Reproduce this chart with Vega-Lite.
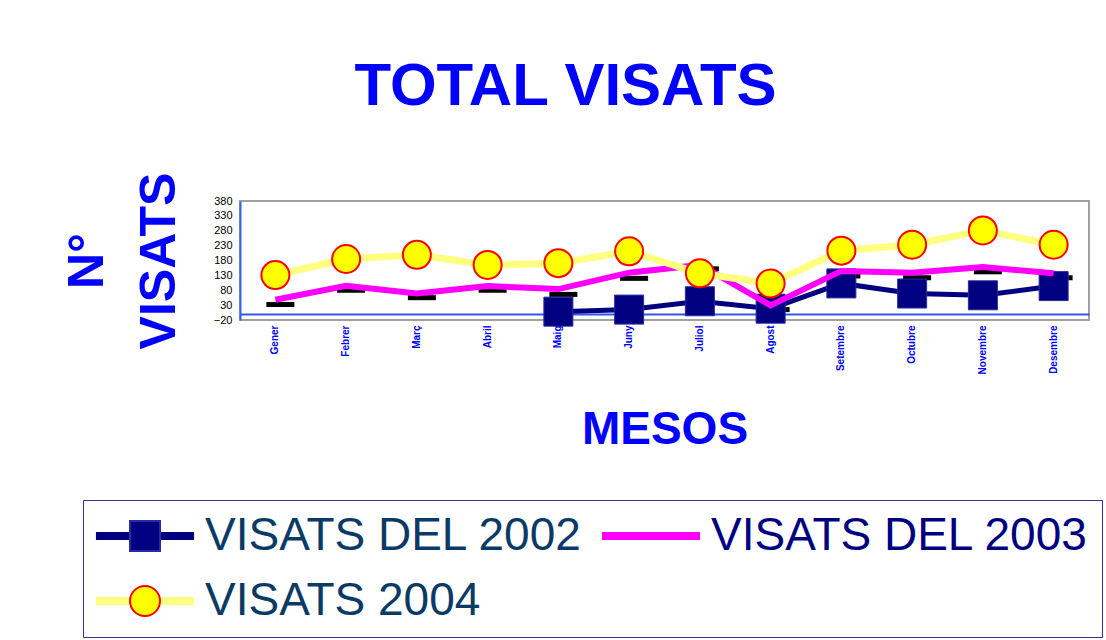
{
  "$schema": "https://vega.github.io/schema/vega-lite/v6.json",
  "width": 849,
  "height": 119,
  "autosize": {"type": "none"},
  "padding": {"left": 240, "top": 201, "right": 17, "bottom": 320},
  "background": "white",
  "title": {"text": "TOTAL VISATS", "font": "Liberation Sans", "fontSize": 60, "fontWeight": "bold", "color": "#0000FF", "anchor": "middle", "baseline": "alphabetic", "offset": 7, "dx": -99},
  "config": {
    "view": {"stroke": "#A0A0A0", "strokeWidth": 2},
    "legend": {"labelLimit": 800}
  },
  "datasets": {
    "visats": [
      {"mes": "Maig", "serie": "VISATS DEL 2002", "marca": "VISATS DEL 2002", "valor": 8},
      {"mes": "Juny", "serie": "VISATS DEL 2002", "marca": "VISATS DEL 2002", "valor": 15},
      {"mes": "Juliol", "serie": "VISATS DEL 2002", "marca": "VISATS DEL 2002", "valor": 43},
      {"mes": "Agost", "serie": "VISATS DEL 2002", "marca": "VISATS DEL 2002", "valor": 18},
      {"mes": "Setembre", "serie": "VISATS DEL 2002", "marca": "VISATS DEL 2002", "valor": 103},
      {"mes": "Octubre", "serie": "VISATS DEL 2002", "marca": "VISATS DEL 2002", "valor": 69},
      {"mes": "Novembre", "serie": "VISATS DEL 2002", "marca": "VISATS DEL 2002", "valor": 63},
      {"mes": "Desembre", "serie": "VISATS DEL 2002", "marca": "VISATS DEL 2002", "valor": 94},
      {"mes": "Gener", "serie": "VISATS DEL 2003", "valor": 48},
      {"mes": "Febrer", "serie": "VISATS DEL 2003", "valor": 95},
      {"mes": "Març", "serie": "VISATS DEL 2003", "valor": 69},
      {"mes": "Abril", "serie": "VISATS DEL 2003", "valor": 94},
      {"mes": "Maig", "serie": "VISATS DEL 2003", "valor": 84},
      {"mes": "Juny", "serie": "VISATS DEL 2003", "valor": 139},
      {"mes": "Juliol", "serie": "VISATS DEL 2003", "valor": 165},
      {"mes": "Agost", "serie": "VISATS DEL 2003", "valor": 29},
      {"mes": "Setembre", "serie": "VISATS DEL 2003", "valor": 145},
      {"mes": "Octubre", "serie": "VISATS DEL 2003", "valor": 139},
      {"mes": "Novembre", "serie": "VISATS DEL 2003", "valor": 158},
      {"mes": "Desembre", "serie": "VISATS DEL 2003", "valor": 137},
      {"mes": "Gener", "serie": "VISATS 2004", "marca": "VISATS 2004", "valor": 131},
      {"mes": "Febrer", "serie": "VISATS 2004", "marca": "VISATS 2004", "valor": 185},
      {"mes": "Març", "serie": "VISATS 2004", "marca": "VISATS 2004", "valor": 199},
      {"mes": "Abril", "serie": "VISATS 2004", "marca": "VISATS 2004", "valor": 165},
      {"mes": "Maig", "serie": "VISATS 2004", "marca": "VISATS 2004", "valor": 171},
      {"mes": "Juny", "serie": "VISATS 2004", "marca": "VISATS 2004", "valor": 211},
      {"mes": "Juliol", "serie": "VISATS 2004", "marca": "VISATS 2004", "valor": 137},
      {"mes": "Agost", "serie": "VISATS 2004", "marca": "VISATS 2004", "valor": 103},
      {"mes": "Setembre", "serie": "VISATS 2004", "marca": "VISATS 2004", "valor": 213},
      {"mes": "Octubre", "serie": "VISATS 2004", "marca": "VISATS 2004", "valor": 233},
      {"mes": "Novembre", "serie": "VISATS 2004", "marca": "VISATS 2004", "valor": 281},
      {"mes": "Desembre", "serie": "VISATS 2004", "marca": "VISATS 2004", "valor": 233}
    ],
    "ombra": [
      {"mes": "Gener", "valor": 32},
      {"mes": "Febrer", "valor": 80},
      {"mes": "Març", "valor": 55},
      {"mes": "Abril", "valor": 80},
      {"mes": "Maig", "valor": 66},
      {"mes": "Juny", "valor": 120},
      {"mes": "Juliol", "valor": 152},
      {"mes": "Agost", "valor": 15},
      {"mes": "Setembre", "valor": 128},
      {"mes": "Octubre", "valor": 122},
      {"mes": "Novembre", "valor": 142},
      {"mes": "Desembre", "valor": 122}
    ]
  },
  "data": {"name": "visats"},
  "encoding": {
    "x": {
      "field": "mes", "type": "nominal",
      "sort": ["Gener","Febrer","Març","Abril","Maig","Juny","Juliol","Agost","Setembre","Octubre","Novembre","Desembre"],
      "scale": {"type": "band", "paddingInner": 0, "paddingOuter": 0},
      "axis": {
        "orient": "bottom", "domain": false, "ticks": false,
        "labelAngle": -90, "labelFont": "Liberation Sans", "labelFontSize": 10, "labelFontWeight": "bold", "labelColor": "#0000FF", "labelPadding": 5,
        "title": "MESOS", "titleFont": "Liberation Sans", "titleFontSize": 46, "titleFontWeight": "bold", "titleColor": "#0000FF",
        "titleBaseline": "alphabetic", "titleY": 123, "titleX": 424.5
      }
    },
    "y": {
      "field": "valor", "type": "quantitative",
      "scale": {"domain": [-20, 380], "nice": false, "zero": false},
      "axis": {
        "values": [-20,-10,0,10,20,30,40,50,60,70,80,90,100,110,120,130,140,150,160,170,180,190,200,210,220,230,240,250,260,270,280,290,300,310,320,330,340,350,360,370,380],
        "labelExpr": "(datum.value + 20) % 50 === 0 ? datum.label : ''",
        "labelOverlap": false,
        "labelFont": "Liberation Sans", "labelFontSize": 11, "labelColor": "#000000", "labelPadding": 8,
        "ticks": false,
        "domainColor": "#3366DD", "domainWidth": 2,
        "grid": true,
        "gridColor": {"condition": {"test": "datum.value === 0", "value": "#3355EE"}, "value": {"expr": "(datum.value + 20) % 50 === 0 ? '#000000' : '#5CC8C8'"}},
        "gridWidth": {"condition": {"test": "datum.value === 0", "value": 2}, "value": 1},
        "title": ["N°", "VISATS"], "titleFont": "Liberation Sans", "titleFontSize": 50, "titleFontWeight": "bold", "titleColor": "#0000FF",
        "titleLineHeight": 72, "titleBaseline": "alphabetic", "titleAngle": -90, "titleX": -138, "titleY": 59.5, "titleAlign": "center"
      }
    }
  },
  "layer": [
    {
      "data": {"name": "ombra"},
      "mark": {"type": "tick", "color": "#000000", "opacity": 1, "size": 28, "thickness": 5, "xOffset": 5}
    },
    {
      "transform": [{"filter": "datum.serie === 'VISATS DEL 2002'"}],
      "mark": {"type": "line", "strokeWidth": 5},
      "encoding": {
        "color": {"field": "serie", "type": "nominal",
          "scale": {"domain": ["VISATS DEL 2002", "VISATS 2004", "VISATS DEL 2003"], "range": ["#000080", "#FFFF80", "#FF00FF"]},
          "legend": {"orient": "none", "legendX": -157, "legendY": 299, "columns": 2, "columnPadding": 2, "rowPadding": 19,
            "symbolType": "M-3.27,0H3.27", "symbolSize": 900, "symbolStrokeWidth": 8, "symbolOffset": 26, "labelOffset": 37,
            "labelFont": "Liberation Sans", "labelFontSize": 46, "labelColor": "#0A3A66", "padding": 13, "strokeColor": "#333399", "title": null,
            "encode": {"labels": {"update": {"fill": {"signal": "datum.label === 'VISATS DEL 2003' ? '#000080' : '#0A3A66'"}}}}}
        }
      }
    },
    {
      "transform": [{"filter": "datum.serie === 'VISATS DEL 2002'"}],
      "mark": {"type": "point", "filled": true, "size": 841, "strokeWidth": 1, "opacity": 1},
      "encoding": {
        "shape": {"field": "marca", "type": "nominal",
          "scale": {"domain": ["VISATS DEL 2002", "VISATS 2004"], "range": ["square", "circle"]},
          "legend": {"orient": "none", "legendX": -157, "legendY": 299, "direction": "vertical", "columns": 1, "rowPadding": 19,
            "symbolSize": 900, "symbolStrokeWidth": 2, "symbolOffset": 26, "labelOffset": 37,
            "labelFont": "Liberation Sans", "labelFontSize": 46, "labelColor": "transparent", "padding": 13, "strokeColor": "transparent", "title": null}},
        "fill": {"field": "marca", "type": "nominal", "scale": {"domain": ["VISATS DEL 2002", "VISATS 2004"], "range": ["#000080", "#FFFF00"]}},
        "stroke": {"field": "marca", "type": "nominal", "scale": {"domain": ["VISATS DEL 2002", "VISATS 2004"], "range": ["#2A2AA0", "#FF0000"]}}
      }
    },
    {
      "transform": [{"filter": "datum.serie === 'VISATS DEL 2003'"}],
      "mark": {"type": "line", "strokeWidth": 6},
      "encoding": {
        "color": {"field": "serie", "type": "nominal",
          "scale": {"domain": ["VISATS DEL 2002", "VISATS 2004", "VISATS DEL 2003"], "range": ["#000080", "#FFFF80", "#FF00FF"]},
          "legend": {"orient": "none", "legendX": -157, "legendY": 299, "columns": 2, "columnPadding": 2, "rowPadding": 19,
            "symbolType": "M-3.27,0H3.27", "symbolSize": 900, "symbolStrokeWidth": 8, "symbolOffset": 26, "labelOffset": 37,
            "labelFont": "Liberation Sans", "labelFontSize": 46, "labelColor": "#0A3A66", "padding": 13, "strokeColor": "#333399", "title": null,
            "encode": {"labels": {"update": {"fill": {"signal": "datum.label === 'VISATS DEL 2003' ? '#000080' : '#0A3A66'"}}}}}
        }
      }
    },
    {
      "transform": [{"filter": "datum.serie === 'VISATS 2004'"}],
      "mark": {"type": "line", "strokeWidth": 7},
      "encoding": {
        "color": {"field": "serie", "type": "nominal",
          "scale": {"domain": ["VISATS DEL 2002", "VISATS 2004", "VISATS DEL 2003"], "range": ["#000080", "#FFFF80", "#FF00FF"]},
          "legend": {"orient": "none", "legendX": -157, "legendY": 299, "columns": 2, "columnPadding": 2, "rowPadding": 19,
            "symbolType": "M-3.27,0H3.27", "symbolSize": 900, "symbolStrokeWidth": 8, "symbolOffset": 26, "labelOffset": 37,
            "labelFont": "Liberation Sans", "labelFontSize": 46, "labelColor": "#0A3A66", "padding": 13, "strokeColor": "#333399", "title": null,
            "encode": {"labels": {"update": {"fill": {"signal": "datum.label === 'VISATS DEL 2003' ? '#000080' : '#0A3A66'"}}}}}
        }
      }
    },
    {
      "transform": [{"filter": "datum.serie === 'VISATS 2004'"}],
      "mark": {"type": "point", "filled": true, "size": 784, "strokeWidth": 2, "opacity": 1},
      "encoding": {
        "shape": {"field": "marca", "type": "nominal",
          "scale": {"domain": ["VISATS DEL 2002", "VISATS 2004"], "range": ["square", "circle"]},
          "legend": {"orient": "none", "legendX": -157, "legendY": 299, "direction": "vertical", "columns": 1, "rowPadding": 19,
            "symbolSize": 900, "symbolStrokeWidth": 2, "symbolOffset": 26, "labelOffset": 37,
            "labelFont": "Liberation Sans", "labelFontSize": 46, "labelColor": "transparent", "padding": 13, "strokeColor": "transparent", "title": null}},
        "fill": {"field": "marca", "type": "nominal", "scale": {"domain": ["VISATS DEL 2002", "VISATS 2004"], "range": ["#000080", "#FFFF00"]}},
        "stroke": {"field": "marca", "type": "nominal", "scale": {"domain": ["VISATS DEL 2002", "VISATS 2004"], "range": ["#2A2AA0", "#FF0000"]}}
      }
    }
  ]
}
